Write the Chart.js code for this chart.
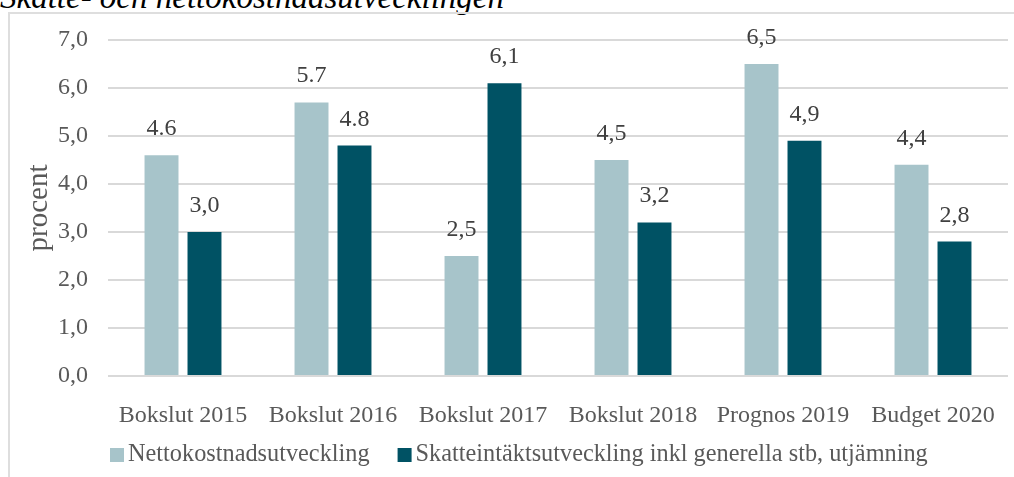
<!DOCTYPE html>
<html>
<head>
<meta charset="utf-8">
<script src="https://cdn.jsdelivr.net/npm/chart.js@4.4.1/dist/chart.umd.min.js"></script>
<style>
  html, body { margin: 0; padding: 0; background: #ffffff; overflow: hidden; }
  #wrap { position: relative; width: 1014px; height: 477px; }
  #frame {
    position: absolute; left: 8px; top: 12px; width: 1020px; height: 480px;
    border-left: 2px solid #dedede; border-top: 2px solid #dedede;
  }
  #title {
    position: absolute; left: 0px; top: -19px; white-space: nowrap;
    font-family: "Liberation Serif", serif; font-style: italic;
    font-size: 33px; line-height: 1; color: #000000;
  }
  #activityChart { position: absolute; left: 0; top: 0; }
</style>
</head>
<body>
<div id="wrap">
  <div id="title">Skatte- och nettokostnadsutvecklingen</div>
  <div id="frame"></div>
  <canvas id="activityChart" width="1014" height="477"></canvas>
</div>
<script>
"use strict";

const categories = ["Bokslut 2015", "Bokslut 2016", "Bokslut 2017", "Bokslut 2018", "Prognos 2019", "Budget 2020"];
const nettoValues = [4.6, 5.7, 2.5, 4.5, 6.5, 4.4];
const skatteValues = [3.0, 4.8, 6.1, 3.2, 4.9, 2.8];
// labels as printed in the source (mixed decimal marks)
const nettoLabels = ["4.6", "5.7", "2,5", "4,5", "6,5", "4,4"];
const skatteLabels = ["3,0", "4.8", "6,1", "3,2", "4,9", "2,8"];
const seriesNames = ["Nettokostnadsutveckling", "Skatteintäktsutveckling inkl generella stb, utjämning"];

const fontFamily = '"Liberation Serif", "Times New Roman", serif';
const textColor = "#595959";

const valueLabels = {
  id: "valueLabels",
  afterDatasetsDraw(chart) {
    const ctx = chart.ctx;
    ctx.save();
    ctx.font = "24px " + fontFamily;
    ctx.fillStyle = "#404040";
    ctx.textAlign = "center";
    ctx.textBaseline = "alphabetic";
    chart.data.datasets.forEach((ds, i) => {
      const meta = chart.getDatasetMeta(i);
      meta.data.forEach((bar, j) => {
        ctx.fillText(ds.valueLabels[j], bar.x, bar.y - 20);
      });
    });
    ctx.restore();
  },
};

// legend drawn by hand so the box/text spacing matches the original
const bottomLegend = {
  id: "bottomLegend",
  afterDraw(chart) {
    const ctx = chart.ctx;
    ctx.save();
    ctx.font = "24.3px " + fontFamily;
    ctx.textAlign = "left";
    ctx.textBaseline = "middle";
    let x = chart.chartArea.left + 2;
    const y = 455;
    chart.data.datasets.forEach((ds) => {
      ctx.fillStyle = ds.backgroundColor;
      ctx.fillRect(x, y - 7, 14, 14);
      ctx.fillStyle = textColor;
      ctx.fillText(ds.label, x + 18, y);
      x += 18 + ctx.measureText(ds.label).width + 28;
    });
    ctx.restore();
  },
};

const ctx = document.getElementById("activityChart").getContext("2d");

new Chart(ctx, {
  type: "bar",
  data: {
    labels: categories,
    datasets: [
      {
        label: seriesNames[0],
        data: nettoValues,
        valueLabels: nettoLabels,
        backgroundColor: "#a7c4ca",
        categoryPercentage: 0.573,
        barPercentage: 0.79,
      },
      {
        label: seriesNames[1],
        data: skatteValues,
        valueLabels: skatteLabels,
        backgroundColor: "#005264",
        categoryPercentage: 0.573,
        barPercentage: 0.79,
      },
    ],
  },
  options: {
    responsive: false,
    animation: false,
    layout: {
      padding: { left: 0, right: 6, top: 40, bottom: 49 },
    },
    plugins: {
      legend: { display: false },
      tooltip: { enabled: false },
    },
    scales: {
      x: {
        grid: { display: false },
        border: { display: false },
        ticks: {
          color: textColor,
          font: { family: fontFamily, size: 24 },
          padding: 17,
          maxRotation: 0,
        },
        afterFit(scale) {
          scale.height = 52;
        },
      },
      y: {
        min: 0,
        max: 7,
        grid: { color: "#d9d9d9", lineWidth: 2, drawTicks: false },
        border: { display: false },
        ticks: {
          stepSize: 1,
          color: textColor,
          font: { family: fontFamily, size: 24 },
          padding: 20,
          callback: (v) => v.toFixed(1).replace(".", ","),
        },
        title: {
          display: true,
          text: "procent",
          color: textColor,
          font: { family: fontFamily, size: 29 },
          padding: { top: 22, bottom: 0 },
        },
        afterFit(scale) {
          scale.width = 108;
        },
      },
    },
  },
  plugins: [valueLabels, bottomLegend],
});
</script>
</body>
</html>
